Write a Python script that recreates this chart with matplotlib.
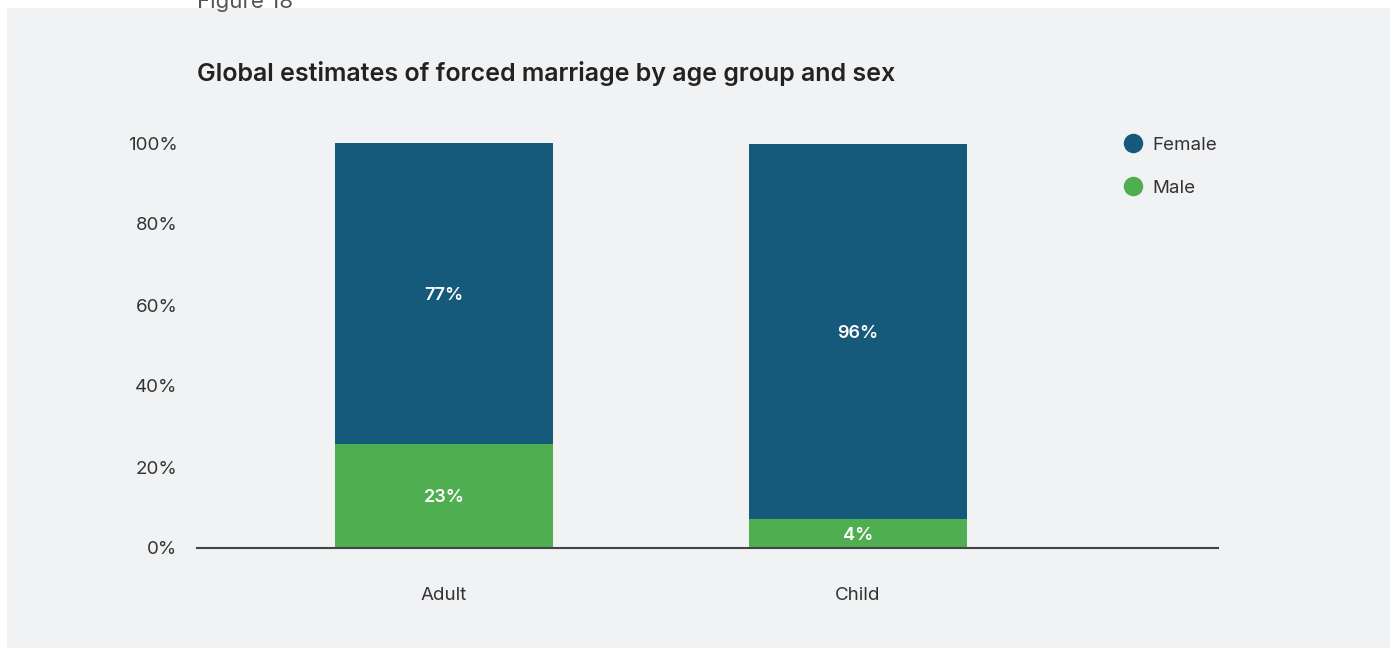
import matplotlib.pyplot as plt
from matplotlib.patches import Rectangle
from matplotlib.lines import Line2D

# ---- Data ----
groups = ["Adult", "Child"]
male = [25.7, 7.2]          # drawn heights of the male segment
female = [74.3, 92.6]       # drawn heights of the female segment
male_labels = ["23%", "4%"]
female_labels = ["77%", "96%"]
yticks = [0, 20, 40, 60, 80, 100]

BLUE = "#15597b"
GREEN = "#4fae50"
PANEL = "#f1f2f4"
TEXT = "#333333"

plt.rcParams['font.family'] = ['Inter', 'DejaVu Sans']

W, H = 1394, 650
fig = plt.figure(figsize=(W / 100, H / 100), dpi=100, facecolor="white")

# light grey panel behind everything
fig.patches.append(Rectangle((7 / W, 1 - 648 / H), (1390 - 7) / W, (648 - 8) / H,
                             transform=fig.transFigure, facecolor=PANEL,
                             edgecolor="none", zorder=-10))

fig.text(197 / W, 1 - 2 / H, "Figure 18", fontsize=16, color="#555555",
         ha="left", va="center")
fig.text(197 / W, 1 - 74 / H, "Global estimates of forced marriage by age group and sex",
         fontsize=18, fontweight="semibold", color="#222222", ha="left", va="center")

# ---- Axes ----
left, right = 197, 1218
top, bottom = 143, 548
ax = fig.add_axes([left / W, 1 - bottom / H, (right - left) / W, (bottom - top) / H])
ax.set_facecolor("none")

x = list(range(len(groups)))
bw = 218 / 414
ax.bar(x, male, width=bw, color=GREEN, zorder=2)
ax.bar(x, female, width=bw, bottom=male, color=BLUE, zorder=2)

for i in x:
    ax.text(i, male[i] / 2, male_labels[i], color="white", fontsize=13,
            fontweight="semibold", ha="center", va="center_baseline")
    ax.text(i, male[i] + female[i] / 2, female_labels[i], color="white",
            fontsize=13, fontweight="semibold", ha="center", va="center_baseline")

ax.set_xlim(-(444 - 197) / 414, 1 + (1218 - 858) / 414)
ax.set_ylim(0, 100)
ax.set_yticks(yticks)
ax.set_yticklabels([f"{v}%" for v in yticks])
ax.set_xticks(x)
ax.set_xticklabels(groups)
ax.tick_params(axis="y", length=0, pad=14, labelsize=13.5, labelcolor=TEXT)
ax.tick_params(axis="x", length=0, pad=28, labelsize=13.5, labelcolor=TEXT)

for s in ["top", "right", "left"]:
    ax.spines[s].set_visible(False)
ax.spines["bottom"].set_color("#444444")
ax.spines["bottom"].set_linewidth(1.5)
ax.spines["bottom"].set_zorder(3)

# ---- Legend ----
handles = [
    Line2D([], [], marker="o", linestyle="none", markersize=14,
           markerfacecolor=BLUE, markeredgecolor="none", label="Female"),
    Line2D([], [], marker="o", linestyle="none", markersize=14,
           markerfacecolor=GREEN, markeredgecolor="none", label="Male"),
]
fig.legend(handles=handles, loc="upper left",
           bbox_to_anchor=(1114 / W, 1 - 129 / H), frameon=False,
           fontsize=13.5, labelcolor=TEXT, handletextpad=0.45,
           labelspacing=1.4, handlelength=1.2, borderaxespad=0)

fig.savefig("out.png", dpi=100, facecolor="white")
